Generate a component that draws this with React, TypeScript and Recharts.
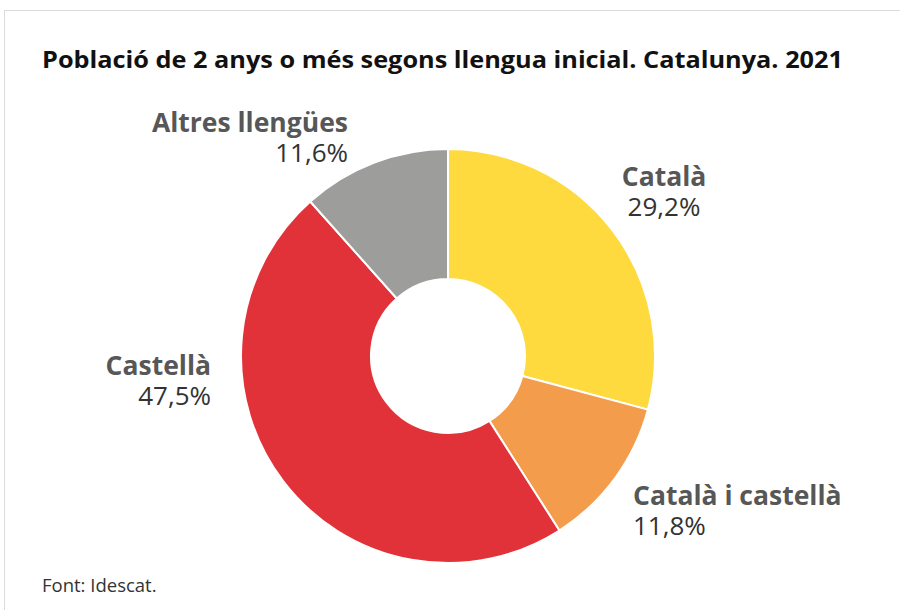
import { Cell, Pie, PieChart } from "recharts"

const languages = ["Català", "Català i castellà", "Castellà", "Altres llengües"]
const shares = [29.2, 11.8, 47.5, 11.6]
const colors = ["#FEDA3E", "#F39C4C", "#E03238", "#9D9D9C"]

// label placement relative to the donut centre (text is placed by hand in the source)
const labelLayout = [
  { dx: 216, dy: -170, anchor: "middle" },
  { dx: 185, dy: 149, anchor: "start" },
  { dx: -237, dy: 19, anchor: "end" },
  { dx: -100, dy: -224, anchor: "end" },
]

const data = languages.map((name, i) => ({ name, value: shares[i] }))

const pct = (v: number) => `${v.toFixed(1).replace(".", ",")}%`

const FONT = "'Open Sans', sans-serif"

function renderLabel(props: any) {
  const { cx, cy, index, value, name } = props
  const l = labelLayout[index]
  const x = cx + l.dx
  const y = cy + l.dy
  return (
    <g key={`lbl-${index}`}>
      <text
        x={x}
        y={y}
        textAnchor={l.anchor}
        fontFamily={FONT}
        fontWeight={700}
        fontSize={26.5}
        fill="#575757"
      >
        {name}
      </text>
      <text
        x={x}
        y={y + 30}
        textAnchor={l.anchor}
        fontFamily={FONT}
        fontSize={26}
        fill="#333333"
      >
        {pct(value)}
      </text>
    </g>
  )
}

export default function App() {
  return (
    <div
      style={{
        position: "fixed",
        left: 0,
        top: 0,
        width: 900,
        height: 610,
        background: "#fff",
        overflow: "hidden",
      }}
    >
      <div
        style={{
          position: "absolute",
          left: 4,
          top: 10,
          width: 900,
          height: 610,
          borderTop: "1px solid #dcdcdc",
          borderLeft: "1px solid #dcdcdc",
        }}
      />
      <div style={{ position: "absolute", left: 0, top: 0 }}>
        <PieChart
          width={900}
          height={610}
          margin={{ top: 0, right: 0, bottom: 0, left: 0 }}
        >
          <Pie
            data={data}
            dataKey="value"
            nameKey="name"
            cx={448}
            cy={356}
            innerRadius={77}
            outerRadius={207}
            startAngle={90}
            endAngle={-270}
            stroke="#ffffff"
            strokeWidth={2}
            label={renderLabel}
            labelLine={false}
            isAnimationActive={false}
          >
            {data.map((d, i) => (
              <Cell key={d.name} fill={colors[i]} />
            ))}
          </Pie>
        </PieChart>
      </div>
      <svg
        width={900}
        height={610}
        style={{ position: "absolute", left: 0, top: 0, pointerEvents: "none" }}
      >
        <text
          x={42}
          y={68}
          fontFamily={FONT}
          fontWeight={700}
          fontSize={24}
          fill="#111111"
          textLength={801}
          lengthAdjust="spacingAndGlyphs"
        >
          Població de 2 anys o més segons llengua inicial. Catalunya. 2021
        </text>
        <text x={42} y={592} fontFamily={FONT} fontSize={18.5} fill="#333333">
          Font: Idescat.
        </text>
      </svg>
    </div>
  )
}
